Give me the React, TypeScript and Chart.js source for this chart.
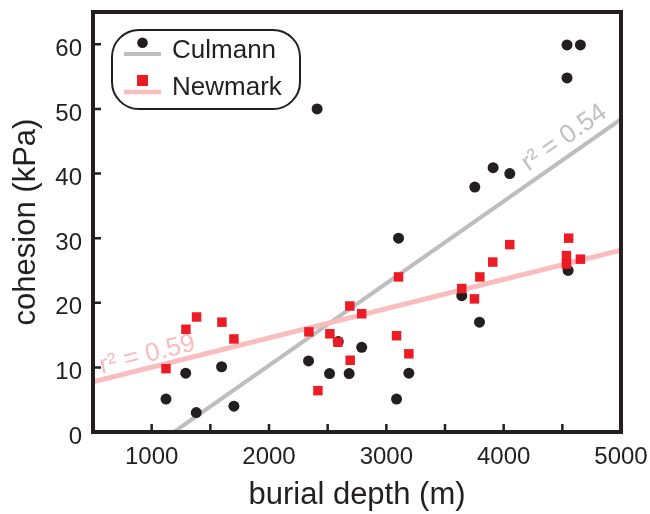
import React, { useEffect, useRef } from 'react';
import { Chart, registerables } from 'chart.js';

Chart.register(...registerables);

// ---- data ----
const culmannDepth = [1122, 1290, 1380, 1596, 1701, 2410, 2337, 2516, 2590, 2683, 2790, 3104, 3192, 3087, 3643, 3794, 3754, 3910, 4052, 4549, 4540, 4654, 4540];
const culmannCohesion = [5.1, 9.1, 3.0, 10.1, 4.0, 50.0, 11.0, 9.05, 14.0, 9.05, 13.1, 30.0, 9.1, 5.1, 21.1, 17.0, 37.9, 40.9, 40.0, 25.0, 59.9, 59.9, 54.8];

const newmarkDepth = [1122, 1292, 1383, 1599, 1701, 2340, 2417, 2519, 2587, 2689, 2692, 2790, 3104, 3087, 3192, 3643, 3751, 3797, 3907, 4052, 4554, 4535, 4535, 4654];
const newmarkCohesion = [9.8, 15.9, 17.8, 17.0, 14.4, 15.5, 6.4, 15.2, 13.9, 19.5, 11.1, 18.3, 24.0, 14.9, 12.1, 22.2, 20.6, 24.0, 26.3, 29.0, 30.0, 27.3, 26.0, 26.75];

const culmannFitDepth = [1190, 5000];
const culmannFitCohesion = [0, 48.4];
const newmarkFitDepth = [500, 5000];
const newmarkFitCohesion = [7.75, 28.15];

const seriesNames = ['Culmann', 'Newmark'];
const r2Labels = ['r² = 0.54', 'r² = 0.59'];
const xMajorTicks = [1000, 2000, 3000, 4000, 5000];
const yMajorTicks = [0, 10, 20, 30, 40, 50, 60];
const xTitle = 'burial depth (m)';
const yTitle = 'cohesion (kPa)';

// ---- styles ----
const INK = '#231f20';
const RED = '#ed1c24';
const GRAY = 'rgb(190,190,190)';
const PINK = 'rgb(249,189,189)';
const FONT = "'Liberation Sans', Arial, Helvetica, sans-serif";

function toPoints(xs: number[], ys: number[]) {
  return xs.map((x, i) => ({ x, y: ys[i] }));
}

function slopedLabel(chart: any, xs: number[], ys: number[], anchorX: number, text: string, color: string, offset: number) {
  const ctx = chart.ctx;
  const sx = chart.scales.x;
  const sy = chart.scales.y;
  const x1 = sx.getPixelForValue(xs[0]);
  const y1 = sy.getPixelForValue(ys[0]);
  const x2 = sx.getPixelForValue(xs[1]);
  const y2 = sy.getPixelForValue(ys[1]);
  const ang = Math.atan2(y2 - y1, x2 - x1);
  const t = (anchorX - xs[0]) / (xs[1] - xs[0]);
  const ay = ys[0] + t * (ys[1] - ys[0]);
  const px = sx.getPixelForValue(anchorX);
  const py = sy.getPixelForValue(ay);
  ctx.save();
  ctx.translate(px, py);
  ctx.rotate(ang);
  ctx.font = `26px ${FONT}`;
  ctx.fillStyle = color;
  ctx.textAlign = 'left';
  ctx.textBaseline = 'alphabetic';
  ctx.fillText(text, 0, -offset);
  ctx.restore();
}

const decorPlugin = {
  id: 'decor',
  afterDraw(chart: any) {
    const ctx = chart.ctx;
    const { left, right, top, bottom } = chart.chartArea;
    const sx = chart.scales.x;
    const sy = chart.scales.y;

    // regression labels
    slopedLabel(chart, culmannFitDepth, culmannFitCohesion, 4260, r2Labels[0], 'rgb(192,192,192)', 10);
    slopedLabel(chart, newmarkFitDepth, newmarkFitCohesion, 588, r2Labels[1], PINK, 6);

    // inside ticks
    ctx.save();
    ctx.strokeStyle = INK;
    ctx.lineWidth = 2.5;
    ctx.beginPath();
    sx.ticks.forEach((t: any) => {
      if (t.value <= sx.min || t.value >= sx.max) return;
      const p = sx.getPixelForValue(t.value);
      ctx.moveTo(p, bottom);
      ctx.lineTo(p, bottom - 8);
    });
    sy.ticks.forEach((t: any) => {
      if (t.value <= sy.min || t.value >= sy.max || t.value % 10 !== 0) return;
      const p = sy.getPixelForValue(t.value);
      ctx.moveTo(left, p);
      ctx.lineTo(left + 8, p);
    });
    ctx.stroke();

    // frame
    ctx.lineWidth = 4;
    ctx.strokeRect(left, top, right - left, bottom - top);
    ctx.restore();

    // legend
    ctx.save();
    const bx = 112, by = 30, bw = 188, bh = 79, r = 27;
    ctx.beginPath();
    ctx.moveTo(bx + r, by);
    ctx.lineTo(bx + bw - r, by);
    ctx.arc(bx + bw - r, by + r, r, -Math.PI / 2, 0);
    ctx.lineTo(bx + bw, by + bh - r);
    ctx.arc(bx + bw - r, by + bh - r, r, 0, Math.PI / 2);
    ctx.lineTo(bx + r, by + bh);
    ctx.arc(bx + r, by + bh - r, r, Math.PI / 2, Math.PI);
    ctx.lineTo(bx, by + r);
    ctx.arc(bx + r, by + r, r, Math.PI, Math.PI * 1.5);
    ctx.closePath();
    ctx.fillStyle = '#ffffff';
    ctx.fill();
    ctx.lineWidth = 2;
    ctx.strokeStyle = INK;
    ctx.stroke();

    // Culmann entry
    ctx.lineWidth = 4;
    ctx.strokeStyle = GRAY;
    ctx.beginPath();
    ctx.moveTo(124, 54);
    ctx.lineTo(161, 54);
    ctx.stroke();
    ctx.fillStyle = INK;
    ctx.beginPath();
    ctx.arc(142.5, 42.7, 5.3, 0, Math.PI * 2);
    ctx.fill();

    // Newmark entry
    ctx.lineWidth = 4.5;
    ctx.strokeStyle = PINK;
    ctx.beginPath();
    ctx.moveTo(124, 92);
    ctx.lineTo(161, 92);
    ctx.stroke();
    ctx.fillStyle = RED;
    ctx.fillRect(137, 75, 11, 11);

    ctx.fillStyle = INK;
    ctx.font = `26px ${FONT}`;
    ctx.textAlign = 'left';
    ctx.textBaseline = 'alphabetic';
    ctx.fillText(seriesNames[0], 172, 58);
    ctx.fillText(seriesNames[1], 172, 95);
    ctx.restore();
  },
};

export default function App() {
  const ref = useRef<HTMLCanvasElement | null>(null);

  useEffect(() => {
    document.body.style.margin = '0';
    const canvas = ref.current;
    if (!canvas) return;
    const chart = new Chart(canvas, {
      type: 'scatter',
      data: {
        datasets: [
          {
            label: seriesNames[1],
            data: toPoints(newmarkDepth, newmarkCohesion),
            pointStyle: 'rect',
            pointRadius: 6.7,
            pointBackgroundColor: RED,
            pointBorderWidth: 0,
            borderWidth: 0,
            order: 0,
          },
          {
            label: seriesNames[0],
            data: toPoints(culmannDepth, culmannCohesion),
            pointStyle: 'circle',
            pointRadius: 5.5,
            pointBackgroundColor: INK,
            pointBorderWidth: 0,
            borderWidth: 0,
            order: 1,
          },
          {
            type: 'line',
            label: 'Newmark fit',
            data: toPoints(newmarkFitDepth, newmarkFitCohesion),
            borderColor: PINK,
            borderWidth: 5,
            pointRadius: 0,
            fill: false,
            order: 2,
          },
          {
            type: 'line',
            label: 'Culmann fit',
            data: toPoints(culmannFitDepth, culmannFitCohesion),
            borderColor: GRAY,
            borderWidth: 4,
            pointRadius: 0,
            fill: false,
            order: 3,
          },
        ] as any,
      },
      options: {
        responsive: false,
        animation: false,
        devicePixelRatio: 1,
        layout: { padding: { top: 12, right: 29, left: 0, bottom: 0 } },
        plugins: {
          legend: { display: false },
          tooltip: { enabled: false },
        },
        scales: {
          x: {
            type: 'linear',
            min: 500,
            max: 5000,
            grid: { display: false, drawTicks: false },
            border: { display: false },
            ticks: {
              stepSize: 500,
              autoSkip: false,
              maxRotation: 0,
              padding: 11,
              color: INK,
              font: { family: FONT, size: 24 },
              callback: (v: any) => (xMajorTicks.includes(Number(v)) ? String(v) : ''),
            },
            title: {
              display: true,
              text: xTitle,
              color: INK,
              font: { family: FONT, size: 31 },
              padding: { top: 0, bottom: 0 },
            },
            afterFit: (s: any) => {
              s.height = 82;
              s.paddingLeft = 0;
              s.paddingRight = 0;
            },
          },
          y: {
            type: 'linear',
            min: 0,
            max: 65,
            grid: { display: false, drawTicks: false },
            border: { display: false },
            ticks: {
              stepSize: 10,
              padding: 11,
              labelOffset: 5,
              color: INK,
              font: { family: FONT, size: 24 },
              callback: (v: any) => (yMajorTicks.includes(Number(v)) ? String(v) : ''),
            },
            title: {
              display: true,
              text: yTitle,
              color: INK,
              font: { family: FONT, size: 31 },
              padding: { top: 8, bottom: 0 },
            },
            afterFit: (s: any) => {
              s.width = 93;
              s.paddingTop = 0;
              s.paddingBottom = 0;
            },
          },
        },
      } as any,
      plugins: [decorPlugin],
    });
    return () => chart.destroy();
  }, []);

  return (
    <div style={{ width: 650, height: 514 }}>
      <canvas ref={ref} width={650} height={514} style={{ display: 'block', width: 650, height: 514 }} />
    </div>
  );
}
